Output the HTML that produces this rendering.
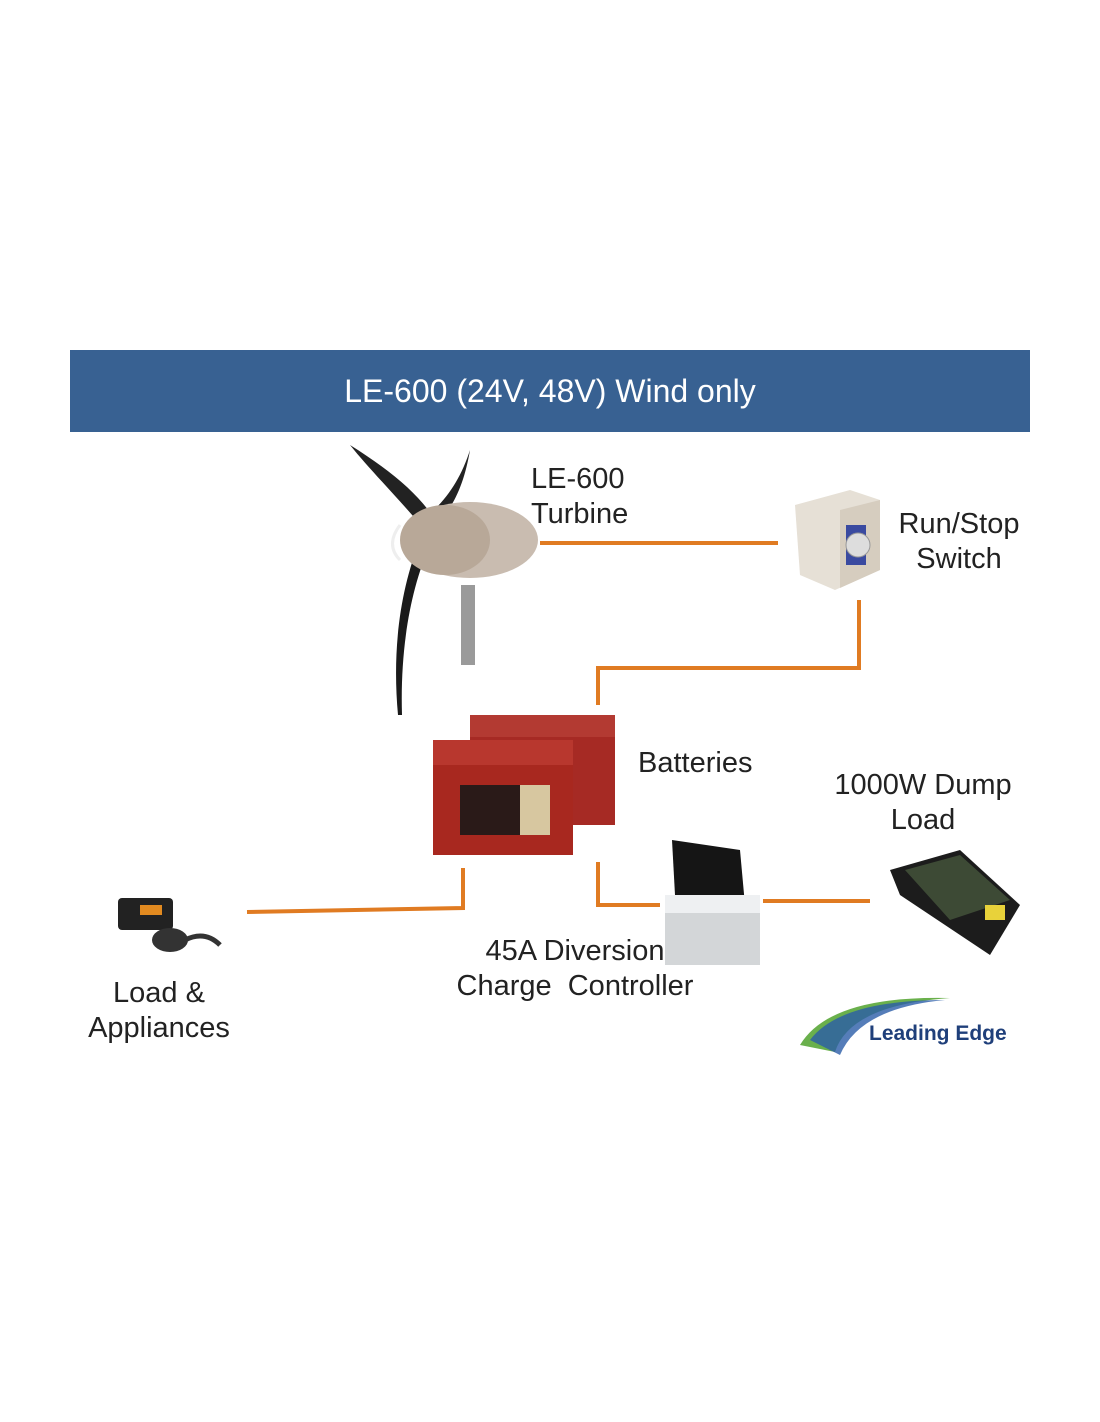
<!DOCTYPE html>
<html><head><meta charset="utf-8"><style>
body{margin:0;background:#fff;}
.t{position:absolute;font-family:"Liberation Sans",sans-serif;color:#222;font-size:29px;line-height:35px;white-space:nowrap}
</style></head><body>
<div style="position:relative;width:1100px;height:1422px;overflow:hidden">
<div style="position:absolute;left:70px;top:350px;width:960px;height:82px;background:#386192"></div>
<div class="t" style="left:70px;width:960px;top:374px;text-align:center;color:#fff;font-size:32px">LE-600 (24V, 48V) Wind only</div>
<svg width="1100" height="1422" style="position:absolute;left:0;top:0">
<g fill="none" stroke="#e07b22" stroke-width="4">
<path d="M540 543H778"/>
<path d="M859 600V668H598V705"/>
<path d="M463 868V908L247 912"/>
<path d="M598 862V905H660"/>
<path d="M763 901H870"/>
</g>
<rect x="461" y="585" width="14" height="80" fill="#9a9a9a"/>
<path d="M350 445 C390 470 420 495 435 520 L425 530 C400 500 370 470 350 445Z" fill="#222"/>
<path d="M470 450 C465 480 455 505 440 520 L432 512 C450 495 462 475 470 450Z" fill="#222"/>
<path d="M430 545 C410 590 400 650 402 715 L398 715 C392 650 400 590 420 540Z" fill="#1a1a1a"/>
<ellipse cx="470" cy="540" rx="68" ry="38" fill="#c9bcb0"/>
<ellipse cx="445" cy="540" rx="45" ry="35" fill="#b8a898"/>
<path d="M400 525 Q385 545 400 560" fill="none" stroke="#eee" stroke-width="3"/>
<path d="M795 505 L850 490 L880 500 L880 570 L835 590 L800 575Z" fill="#e6e0d6"/>
<path d="M840 510 L880 500 L880 570 L840 588Z" fill="#d6cdbf"/>
<rect x="846" y="525" width="20" height="40" fill="#3a4aa0"/>
<circle cx="858" cy="545" r="12" fill="#ddd" stroke="#999"/>
<rect x="470" y="720" width="145" height="105" fill="#a62a24"/>
<rect x="470" y="715" width="145" height="22" fill="#b33a32"/>
<rect x="433" y="745" width="140" height="110" fill="#a8281f"/>
<rect x="433" y="740" width="140" height="25" fill="#b8372e"/>
<rect x="460" y="785" width="60" height="50" fill="#2a1a18"/>
<rect x="520" y="785" width="30" height="50" fill="#d7c7a0"/>
<path d="M672 840 L740 850 L745 905 L675 895Z" fill="#151515"/>
<rect x="665" y="895" width="95" height="70" fill="#d3d6d8"/>
<rect x="665" y="895" width="95" height="18" fill="#eef0f2"/>
<path d="M890 870 L960 850 L1020 905 L990 955 L900 895Z" fill="#1c1c1c"/>
<path d="M905 870 L960 855 L1010 900 L950 920Z" fill="#3d4a35"/>
<rect x="985" y="905" width="20" height="15" fill="#e8d23a"/>
<rect x="118" y="898" width="55" height="32" rx="4" fill="#222"/>
<rect x="140" y="905" width="22" height="10" fill="#e28a20"/>
<ellipse cx="170" cy="940" rx="18" ry="12" fill="#333"/>
<path d="M185 940 Q205 930 220 945" stroke="#333" stroke-width="5" fill="none"/>
<path d="M800 1045 Q830 995 950 998 Q850 1005 835 1052Z" fill="#6ab04c"/>
<path d="M810 1040 Q840 1000 945 1000 Q860 1008 840 1055Z" fill="#2a5da8" opacity=".8"/>
</svg>
<div class="t" style="left:531px;top:462px">LE-600<br>Turbine</div>
<div class="t" style="left:885px;width:148px;top:507px;text-align:center">Run/Stop<br>Switch</div>
<div class="t" style="left:638px;top:746px">Batteries</div>
<div class="t" style="left:823px;width:200px;top:768px;text-align:center">1000W Dump<br>Load</div>
<div class="t" style="left:430px;width:290px;top:934px;text-align:center">45A Diversion<br>Charge&nbsp; Controller</div>
<div class="t" style="left:75px;width:168px;top:976px;text-align:center">Load &amp;<br>Appliances</div>
<div class="t" style="left:869px;top:1016px;font-size:21px;color:#1f3f7a;font-weight:bold">Leading Edge</div>
</div>
</body></html>
